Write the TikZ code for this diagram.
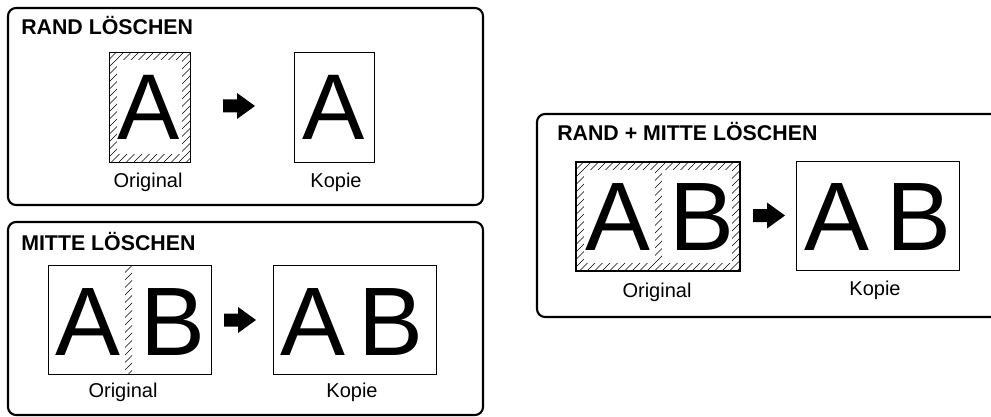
\documentclass[tikz,border=0pt]{standalone}
\usepackage{fontspec}
\setmainfont{Liberation Sans}
\newcommand\hatchzone[4]{%
  \begin{scope}
    \clip (#1,#2) rectangle (#3,#4);
    \pgfmathsetmacro\hh{#4-#2}
    \pgfmathsetmacro\xa{#1-\hh}
    \pgfmathsetmacro\xb{\xa+7.5}
    \foreach \x in {\xa,\xb,...,#3} \draw[hatchline] (\x,#4) -- ++(\hh,-\hh);
  \end{scope}}
\begin{document}
\begin{tikzpicture}[x=0.75pt,y=-0.75pt,
  panel/.style={draw, line width=1.6pt, rounded corners=6pt},
  page/.style={draw, line width=0.6pt},
  title/.style={font=\bfseries\fontsize{16}{18}\selectfont, anchor=base west, inner sep=0},
  lbl/.style={font=\fontsize{15}{18}\selectfont, anchor=base, inner sep=0},
  bigA/.style={font=\fontsize{70}{80}\selectfont, anchor=base, inner sep=0},
  bigB/.style={font=\fontsize{73}{80}\selectfont, anchor=base, inner sep=0},
  hatchline/.style={line width=0.45pt},
  bigarrow/.pic={\fill (0,-6.5) -- (14,-6.5) -- (14,-13) -- (32,0) -- (14,13) -- (14,6.5) -- (0,6.5) -- cycle;}
]
\useasboundingbox (0,0) rectangle (991,417);
\fill[white] (0,0) rectangle (991,417);

% ---------- Panel 1: RAND LOESCHEN ----------
\draw[panel] (8,8) rectangle (483,205);
\node[title] (t1) at (21,35) {RAND LÖSCHEN};
\hatchzone{109}{52}{190}{162}
\fill[white] (117,60) rectangle (182,154);
\draw[page] (109,52) rectangle (190,162);
\node[bigA] (o1a) at (149,140) {A};
\pic at (223,106) {bigarrow};
\draw[page] (294,52) rectangle (374,162);
\node[bigA] (k1a) at (334,140) {A};
\node[lbl] (o1l) at (148,187) {Original};
\node[lbl] (k1l) at (336,187) {Kopie};

% ---------- Panel 2: MITTE LOESCHEN ----------
\draw[panel] (8,222) rectangle (483,415);
\node[title] (t2) at (21,250) {MITTE LÖSCHEN};
\hatchzone{125}{265}{132}{374}
\draw[page] (48,265) rectangle (211,374);
\node[bigB] (o2a) at (87.5,355) {A};
\node[bigB] (o2b) at (173,355) {B};
\pic at (224,320) {bigarrow};
\draw[page] (273,265) rectangle (436,374);
\node[bigB] (k2a) at (312.5,355) {A};
\node[bigB] (k2b) at (390.5,355) {B};
\node[lbl] (o2l) at (123,397) {Original};
\node[lbl] (k2l) at (352,397) {Kopie};

% ---------- Panel 3: RAND + MITTE LOESCHEN ----------
\draw[panel] (537,114) rectangle (1005,317);
\node[title] (t3) at (557,141) {RAND + MITTE LÖSCHEN};
\hatchzone{576}{162}{740}{271}
\fill[white] (584,170) rectangle (655,263);
\fill[white] (662,170) rectangle (732,263);
\draw[page, line width=1.2pt] (576,162) rectangle (740,271);
\node[bigB] (o3a) at (618,250) {A};
\node[bigB] (o3b) at (701.5,250) {B};
\pic at (753,215.5) {bigarrow};
\draw[page] (796,161) rectangle (959,270);
\node[bigB] (k3a) at (836.5,250) {A};
\node[bigB] (k3b) at (918.5,250) {B};
\node[lbl] (o3l) at (657,297) {Original};
\node[lbl] (k3l) at (875,295) {Kopie};
\end{tikzpicture}
\end{document}
